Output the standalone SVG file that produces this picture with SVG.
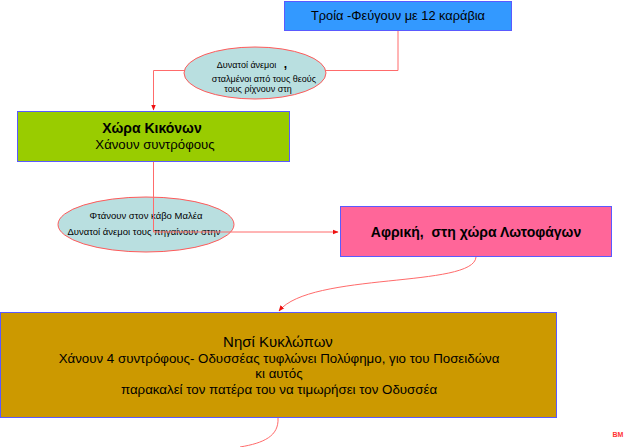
<svg xmlns="http://www.w3.org/2000/svg" width="640" height="447" viewBox="0 0 640 447">
<style>
text{font-family:"Liberation Sans",Arial,sans-serif;fill:#000;text-anchor:middle}
.box{stroke:#5a5aff;stroke-width:1}
.ell{fill:#b9dfe0;stroke:#ff5a5a;stroke-width:1}
.con{fill:none;stroke:#ff6b6b;stroke-width:1}
.s9{font-size:9px}
.s95{font-size:9.5px}
.c13{font-size:13.3px}
</style>
<defs>
<marker id="arr" viewBox="0 0 10 10" refX="9" refY="5" markerWidth="6" markerHeight="6" orient="auto" markerUnits="userSpaceOnUse">
<path d="M0,1 L10,5 L0,9 Z" fill="#ee1111"/>
</marker>
</defs>
<rect width="640" height="447" fill="#fff"/>
<g id="troy">
<rect class="box" x="284.5" y="1.5" width="227" height="29" fill="#3399ff" stroke="#6e6eff"/>
<text x="398" y="20" font-size="12.8">Τροία -Φεύγουν με 12 καράβια</text>
</g>
<g id="kikones">
<rect class="box" x="17.5" y="111.5" width="272" height="50" fill="#99cc00"/>
<text x="152" y="133" font-size="14" font-weight="bold">Χώρα Κικόνων</text>
<text x="155" y="148.5" font-size="13.2">Χάνουν συντρόφους</text>
</g>
<g id="africa">
<rect class="box" x="340.5" y="206.5" width="271" height="50" fill="#ff6699" stroke="#9999ff"/>
<text x="476" y="237" font-size="14" font-weight="bold">Αφρική,&#160; στη χώρα Λωτοφάγων</text>
</g>
<g id="cyclops">
<rect class="box" x="0.5" y="312.5" width="556" height="105" fill="#cc9900" stroke="#4747ff"/>
<text x="278" y="347" font-size="15">Νησί Κυκλώπων</text>
<text class="c13" x="279" y="363">Χάνουν 4 συντρόφους- Οδυσσέας τυφλώνει Πολύφημο, γιο του Ποσειδώνα</text>
<text class="c13" x="279" y="378">κι αυτός</text>
<text class="c13" x="279" y="394">παρακαλεί τον πατέρα του να τιμωρήσει τον Οδυσσέα</text>
</g>
<g id="malea">
<ellipse class="ell" cx="146" cy="224.5" rx="88" ry="27.5"/>
<text class="s95" x="146" y="218.5">Φτάνουν στον κάβο Μαλέα</text>
<text class="s95" x="144" y="235">Δυνατοί άνεμοι τους πηγαίνουν στην</text>
</g>
<g id="connectors">
<path class="con" d="M398,31 V70.5 H153.5 V110" stroke="#ff8080" stroke-width="1.6" marker-end="url(#arr)"/>
<path class="con" d="M153.5,162 V232 H338" marker-end="url(#arr)"/>
<path class="con" d="M476,257 C474,288 310,272 279,311" stroke="#ee3333" marker-end="url(#arr)"/>
<path class="con" d="M278,418 C279,436 264,443 240,447" stroke="#ee3333"/>
</g>
<g id="winds">
<ellipse class="ell" cx="255" cy="73" rx="71" ry="26"/>
<text class="s9" x="252" y="68">Δυνατοί άνεμοι&#160;&#160; <tspan font-weight="bold" font-size="12">,</tspan></text>
<text class="s9" x="264" y="82">σταλμένοι από τους θεούς</text>
<text class="s9" x="258" y="92">τους ρίχνουν στη</text>
</g>
<g id="bm">
<text x="618" y="437" font-size="7" font-weight="bold" style="fill:#ff3333">BM</text>
</g>
</svg>
